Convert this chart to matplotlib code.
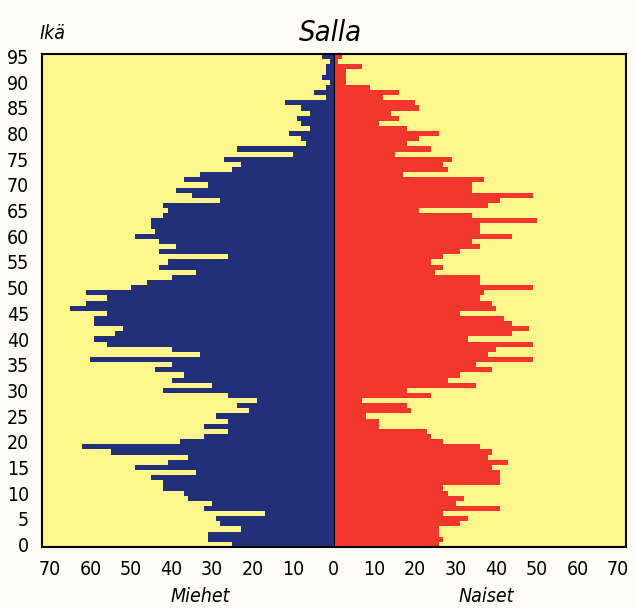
import matplotlib.pyplot as plt
import numpy as np

# age 0..95
ages = np.arange(96)
miehet = [25, 31, 31, 23, 28, 29, 17, 32, 30, 36,
          37, 42, 42, 45, 34, 49, 41, 36, 55, 62,
          38, 32, 26, 32, 26, 29, 21, 24, 19, 26,
          42, 30, 40, 37, 44, 40, 60, 33, 40, 56,
          59, 54, 52, 59, 59, 56, 65, 61, 56, 61,
          50, 46, 40, 34, 43, 41, 26, 43, 39, 43,
          49, 44, 45, 45, 42, 41, 42, 28, 35, 39,
          31, 37, 33, 25, 23, 27, 10, 24, 7, 8,
          11, 6, 8, 9, 6, 8, 12, 2, 5, 2,
          1, 3, 2, 2, 1, 3]
naiset = [26, 27, 26, 26, 31, 33, 27, 41, 30, 32,
          28, 27, 41, 41, 41, 39, 43, 38, 39, 36,
          27, 24, 23, 11, 11, 8, 19, 18, 7, 24,
          18, 35, 28, 31, 39, 35, 49, 38, 40, 49,
          33, 44, 48, 44, 42, 31, 40, 39, 36, 37,
          49, 36, 36, 25, 27, 24, 27, 31, 36, 34,
          44, 36, 36, 50, 34, 21, 38, 41, 49, 34,
          34, 37, 17, 28, 27, 29, 15, 24, 18, 21,
          26, 18, 11, 16, 14, 21, 20, 12, 16, 9,
          3, 3, 3, 7, 1, 2]

xticks = [-70, -60, -50, -40, -30, -20, -10, 0, 10, 20, 30, 40, 50, 60, 70]
yticks = list(range(0, 96, 5))

plt.rcParams['font.family'] = ['DejaVu Sans']
plt.rcParams['font.stretch'] = 'condensed'

fig = plt.figure(figsize=(6.35, 6.09), dpi=100, facecolor='#fdfdf6')
ax = fig.add_axes([0.0657, 0.1018, 0.9203, 0.8095])
ax.set_facecolor('#fff68c')

ax.barh(ages, -np.array(miehet), height=1.0, color='#22307a', linewidth=0)
ax.barh(ages, naiset, height=1.0, color='#f4372d', linewidth=0)
ax.axvline(0, color='black', linewidth=0.8)

ax.set_xlim(-72, 72)
ax.set_ylim(-0.5, 95.5)
ax.set_xticks(xticks)
ax.set_xticklabels([str(abs(t)) for t in xticks])
ax.set_yticks(yticks)
ax.tick_params(axis='both', length=0, labelsize=14)
ax.tick_params(axis='x', pad=9)
ax.tick_params(axis='y', pad=9)
for s in ax.spines.values():
    s.set_linewidth(1.5)

fig.text(0.52, 0.945, 'Salla', fontsize=21, style='italic', ha='center', va='center')
fig.text(0.062, 0.945, 'Ikä', fontsize=14, style='italic', ha='left', va='center')
fig.text(0.315, 0.02, 'Miehet', fontsize=14, style='italic', ha='center', va='center')
fig.text(0.765, 0.02, 'Naiset', fontsize=14, style='italic', ha='center', va='center')

fig.savefig('out.png', dpi=100, facecolor=fig.get_facecolor())
